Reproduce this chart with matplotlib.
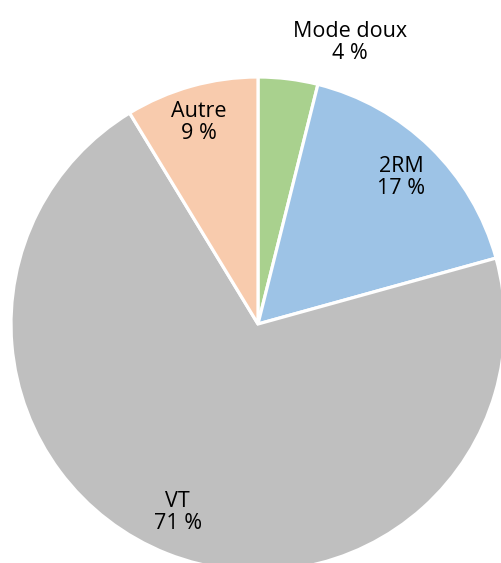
import numpy as np
import matplotlib
matplotlib.use("Agg")
import matplotlib.pyplot as plt

# shares of trips by mode (clockwise from top)
MODES = ["Mode doux", "2RM", "VT", "Autre"]
SHARES = [3.9, 16.8, 70.6, 8.7]
LABELS = ["4 %", "17 %", "71 %", "9 %"]
COLORS = ["#a9d18e", "#9dc3e6", "#bfbfbf", "#f8cbad"]

# label placement: fraction of radius, angular shift (deg)
LABEL_POS = [(1.20, -11), (0.83, 0), (0.83, -1.5), (0.85, 0.8)]

W, H = 502, 563
fig = plt.figure(figsize=(W / 100, H / 100), dpi=100)
ax = fig.add_axes([0, 0, 1, 1])

cx, cy, r = 258, H - 324, 247
wedges, _ = ax.pie(SHARES, colors=COLORS, startangle=90, counterclock=False,
                   center=(cx, cy), radius=r, frame=True,
                   wedgeprops=dict(edgecolor="white", linewidth=2.3))
ax.set_xlim(0, W)
ax.set_ylim(0, H)
ax.set_aspect("equal")
ax.axis("off")

for w, name, lab, (dist, shift) in zip(wedges, MODES, LABELS, LABEL_POS):
    mid = np.deg2rad((w.theta1 + w.theta2) / 2 + shift)
    x = cx + dist * r * np.cos(mid)
    y = cy + dist * r * np.sin(mid)
    ax.text(x, y, f"{name}\n{lab}", ha="center", va="center",
            fontsize=15.5, family="Open Sans", color="black",
            linespacing=1.05)

fig.savefig("out.png", dpi=100)
